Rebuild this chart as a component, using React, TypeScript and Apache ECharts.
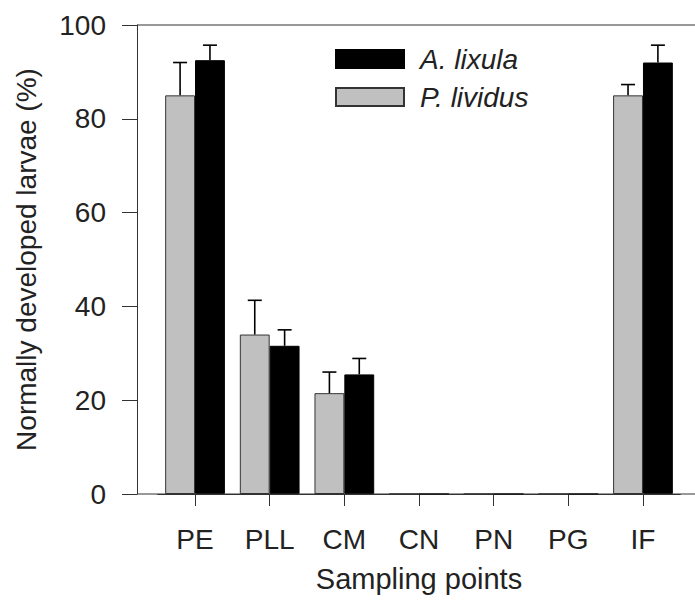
import React, { useEffect, useRef } from "react";
import * as echarts from "echarts";

const categories = ["PE", "PLL", "CM", "CN", "PN", "PG", "IF"];
const lividusValues = [85, 34, 21.5, 0, 0, 0, 85];
const lividusErrors = [7, 7.3, 4.5, 0, 0, 0, 2.3];
const lixulaValues = [92.5, 31.6, 25.5, 0, 0, 0, 92];
const lixulaErrors = [3.2, 3.4, 3.4, 0, 0, 0, 3.7];
const yTicks = { min: 0, max: 100, interval: 20 };

const W = 695;
const H = 601;
const AXIS_X = 137;
const TOP = 25;
const BOTTOM_Y = 494;
const GRID_LEFT = 157.7;
const GRID_RIGHT = 14.7;
const FONT = "'Liberation Sans', Arial, sans-serif";
const TEXT = "#222";
const LINE = "#333";
const FS = 28;

function errorSeries(name: string, values: number[], errors: number[], side: number) {
  return {
    type: "custom",
    name,
    z: 5,
    silent: true,
    data: values.map((v, i) => [i, v, errors[i]]),
    encode: { x: 0, y: 1 },
    renderItem: (params: any, api: any) => {
      const idx = api.value(0);
      const v = api.value(1);
      const e = api.value(2);
      if (!e) return null;
      const band = api.size([1, 0])[0];
      const base = api.coord([idx, v]);
      const top = api.coord([idx, v + e]);
      const x = base[0] + side * band * 0.2;
      const cap = 7;
      return {
        type: "group",
        children: [
          { type: "line", shape: { x1: x, y1: base[1], x2: x, y2: top[1] }, style: { stroke: "#000", lineWidth: 1.6 } },
          { type: "line", shape: { x1: x - cap, y1: top[1], x2: x + cap, y2: top[1] }, style: { stroke: "#000", lineWidth: 1.6 } },
        ],
      };
    },
  };
}

export default function App() {
  const ref = useRef<HTMLDivElement>(null);
  useEffect(() => {
    if (!ref.current) return;
    const chart = echarts.init(ref.current, null, { renderer: "svg" });
    chart.setOption({
      animation: false,
      backgroundColor: "#fff",
      textStyle: { fontFamily: FONT },
      grid: { left: GRID_LEFT, right: GRID_RIGHT, top: TOP, bottom: H - BOTTOM_Y, containLabel: false },
      legend: {
        data: ["A. lixula", "P. lividus"],
        orient: "vertical",
        left: 330,
        top: 40,
        icon: "rect",
        itemWidth: 68,
        itemHeight: 18,
        itemGap: 10,
        selectedMode: false,
        textStyle: { fontFamily: FONT, fontSize: FS, fontStyle: "italic", color: TEXT, padding: [0, 0, 0, 11], lineHeight: 20 },
      },
      xAxis: {
        type: "category",
        data: categories,
        name: "Sampling points",
        nameLocation: "middle",
        nameGap: 70,
        nameTextStyle: { fontFamily: FONT, fontSize: FS + 1, color: TEXT },
        axisLine: { show: true, lineStyle: { color: LINE, width: 1 } },
        axisTick: { show: true, alignWithLabel: true, length: 12, lineStyle: { color: LINE } },
        axisLabel: { fontFamily: FONT, fontSize: FS, color: TEXT, margin: 31 },
        splitLine: { show: false },
      },
      yAxis: {
        type: "value",
        min: yTicks.min,
        max: yTicks.max,
        interval: yTicks.interval,
        offset: GRID_LEFT - AXIS_X,
        name: "Normally developed larvae (%)",
        nameLocation: "middle",
        nameGap: 97,
        nameTextStyle: { fontFamily: FONT, fontSize: FS, color: TEXT },
        axisLine: { show: true, lineStyle: { color: LINE, width: 1 } },
        axisTick: { show: true, length: 15, lineStyle: { color: LINE } },
        axisLabel: { fontFamily: FONT, fontSize: FS, color: TEXT, margin: 31 },
        splitLine: { show: false },
      },
      graphic: [
        { type: "line", shape: { x1: AXIS_X, y1: TOP, x2: W, y2: TOP }, style: { stroke: LINE, lineWidth: 1 }, z: 10 },
        { type: "line", shape: { x1: AXIS_X, y1: BOTTOM_Y, x2: W, y2: BOTTOM_Y }, style: { stroke: LINE, lineWidth: 1 }, z: 10 },
      ],
      series: [
        {
          type: "bar",
          name: "P. lividus",
          data: lividusValues,
          barWidth: "40%",
          barGap: "0%",
          itemStyle: { color: "#c0c0c0", borderColor: "#333", borderWidth: 1 },
        },
        {
          type: "bar",
          name: "A. lixula",
          data: lixulaValues,
          barWidth: "40%",
          barGap: "0%",
          itemStyle: { color: "#000", borderColor: "#000", borderWidth: 1 },
        },
        errorSeries("err-lividus", lividusValues, lividusErrors, -1),
        errorSeries("err-lixula", lixulaValues, lixulaErrors, 1),
      ],
    });
    return () => chart.dispose();
  }, []);
  return <div ref={ref} style={{ width: W, height: H, position: "absolute", left: 0, top: 0 }} />;
}
